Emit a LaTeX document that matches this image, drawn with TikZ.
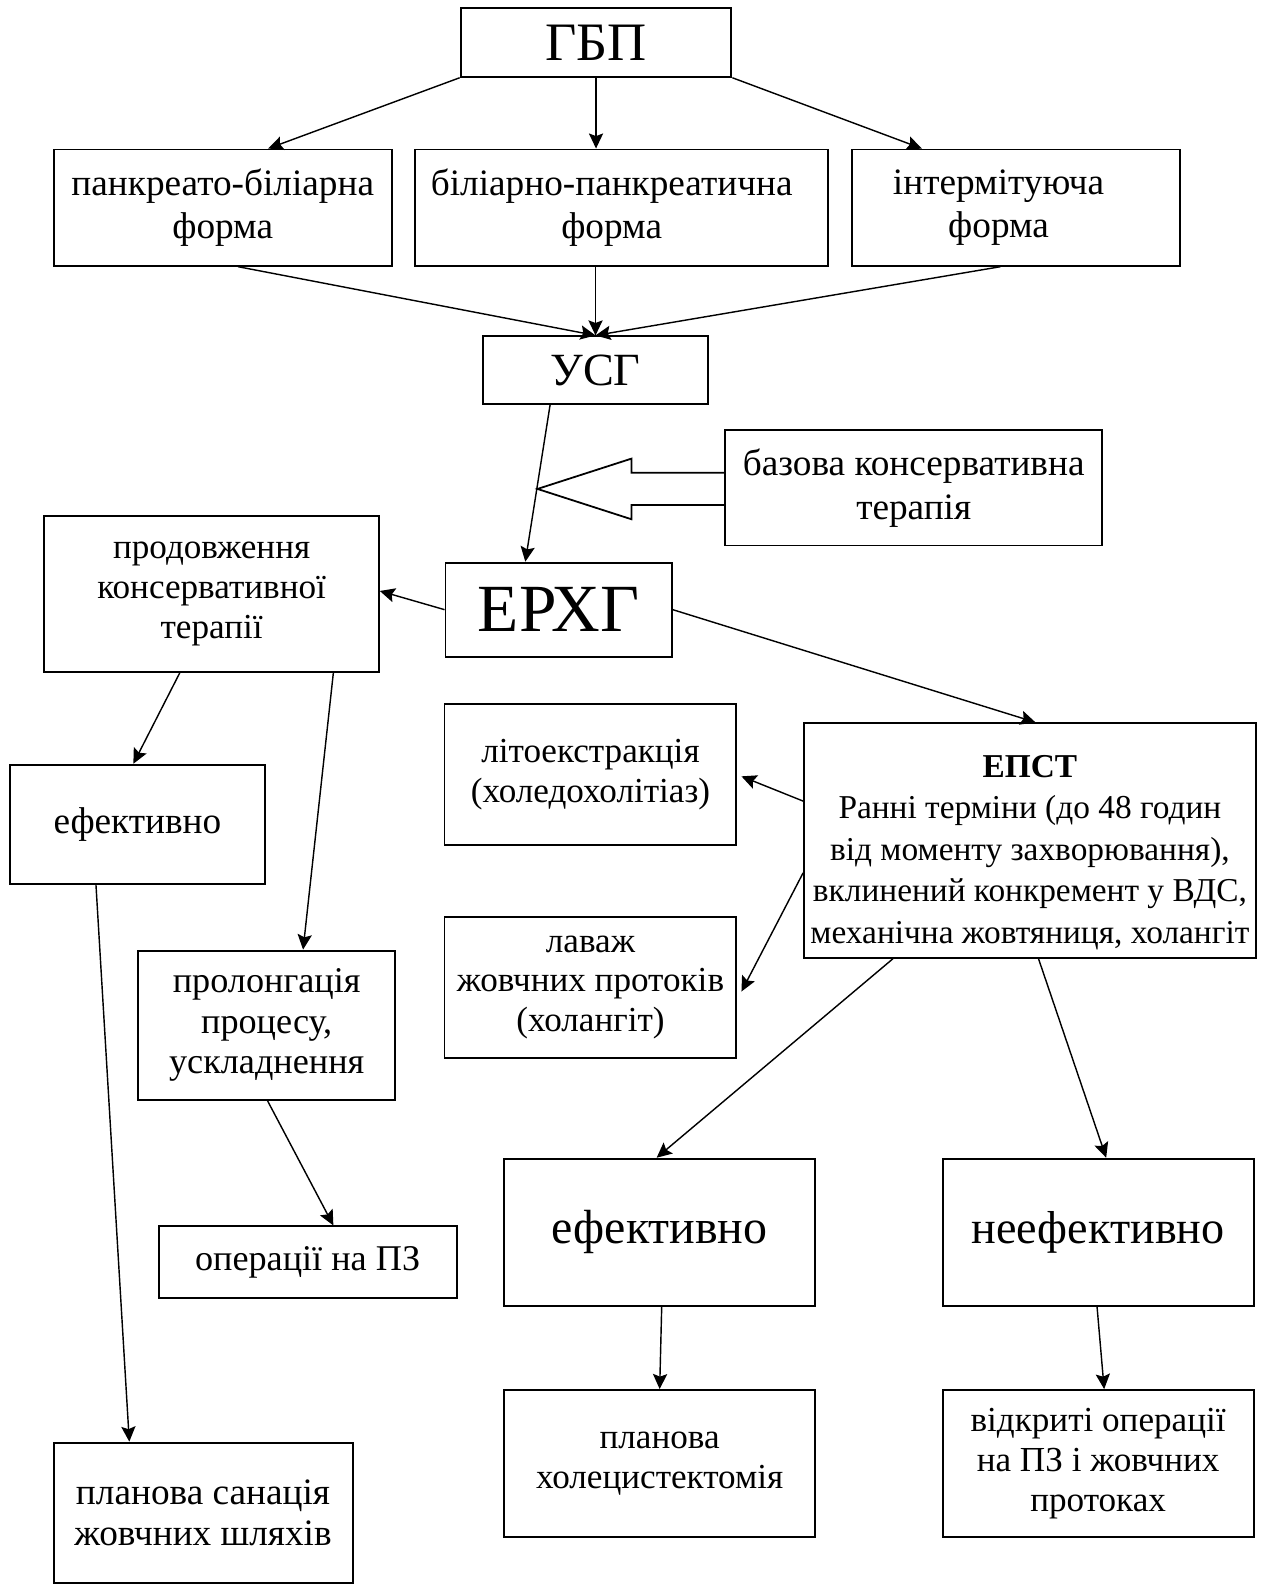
\documentclass[tikz,border=0pt]{standalone}
\usepackage{fontspec}
\setmainfont{Liberation Serif}
\usetikzlibrary{arrows.meta,calc}
\newlength\unitpx
\setlength\unitpx{0.02cm}
\newcommand\bodysize{\fontsize{21}{24.5}\selectfont}
\newcommand\lowsize{\fontsize{19.8}{22.5}\selectfont}
\newcommand\epstsize{\fontsize{18.8}{23.3}\selectfont}

\begin{document}
\begin{tikzpicture}[x=\unitpx, y=\unitpx,
    % --- Styles ---
    flowBox/.style 2 args={
      draw,
      rectangle,
      line width=1.1pt,
      align=center,
      inner sep=0pt,
      minimum width=#1\unitpx,
      minimum height=#2\unitpx,
      font=\bodysize
    },
    flowArrow/.style={
      line width=0.8pt,
      -{Stealth[length=8.5pt,width=8pt,inset=1.5pt]}
    }
]
\useasboundingbox (0,0) rectangle (1252,-1568);

%=====================
% Top: forms of the disease
%=====================
\node[flowBox={268}{68}, font=\fontsize{30.5}{34}\selectfont] (gbp) at (590,-42) {ГБП};
\node[flowBox={335}{115}] (pbf) at (220.5,-205.5) {панкреато-біліарна\\форма};
\node[flowBox={409}{115}] (bpf) at (615.5,-205.5) {біліарно-панкреатична\hspace*{20\unitpx}\\форма\hspace*{20\unitpx}};
\node[flowBox={325}{115}] (intf) at (1005.5,-205.5) {інтермітуюча\hspace*{34\unitpx}\\форма\hspace*{34\unitpx}};
\node[flowBox={223}{67}, font=\fontsize{26}{30}\selectfont] (usg) at (589.5,-366.5) {УСГ};
\node[flowBox={373}{114}] (bazova) at (904.5,-483) {базова консервативна\\терапія};
\node[flowBox={224}{93}, font=\fontsize{38}{42}\selectfont] (erhg) at (553,-603.5) {ЕРХГ};

\draw[flowArrow] (gbp.south west) -- ($(pbf.north)+(45,0)$);
\draw[flowArrow] (gbp.south) -- (gbp.south |- bpf.north);
\draw[flowArrow] (gbp.south east) -- ($(intf.north)+(-93,0)$);
\draw[flowArrow] ($(pbf.south)+(15,0)$) -- (usg.north);
\draw[flowArrow] (usg.north |- bpf.south) -- (usg.north);
\draw[flowArrow] ($(intf.south)+(-15,0)$) -- (usg.north);
\draw[flowArrow] ($(usg.south)+(-45,0)$) -- ($(erhg.north)+(-33,0)$);

% hollow arrow from the base therapy
\draw[line width=1pt] ($(bazova.west)+(0,15)$) -- ++(-92,0) -- ++(0,14)
  -- ($(bazova.west)+(-185,-1)$) -- ($(bazova.west)+(-92,-31)$)
  -- ++(0,14) -- ($(bazova.west)+(0,-17)$);

%=====================
% Left branch: conservative therapy
%=====================
\node[flowBox={331}{154}, font=\lowsize] (prod) at (209.5,-588) {продовження\\консервативної\\терапії};
\node[flowBox={252}{118}] (efl) at (136,-816) {ефективно};
\node[flowBox={254}{148}, font=\fontsize{20.4}{22.8}\selectfont] (prol) at (264,-1015) {пролонгація\\процесу,\\ускладнення};
\node[flowBox={295}{71}, font=\fontsize{20.4}{22.8}\selectfont] (oper) at (304.5,-1249.5) {операції на ПЗ};
\node[flowBox={296}{139}, font=\fontsize{21}{23.5}\selectfont] (plsan) at (201,-1497.5) {планова санація\\жовчних шляхів};

\draw[flowArrow] (erhg.west) -- ($(prod.east)+(0,3)$);
\draw[flowArrow] ($(prod.south)+(-31.5,0)$) -- ($(efl.north)+(-4,0)$);
\draw[flowArrow] ($(prod.south)+(120.5,0)$) -- ($(prol.north)+(36,0)$);
\draw[flowArrow] ($(efl.south)+(-41,0)$) -- ($(plsan.north)+(-73,0)$);
\draw[flowArrow] ($(prol.south)+(1,0)$) -- ($(oper.north)+(25.5,0)$);

%=====================
% Right branch: EPST
%=====================
\node[flowBox={447}{232}, font=\epstsize] (epst) at (1019.5,-832) {\rule{0pt}{26pt}\textbf{ЕПСТ}\\Ранні терміни (до 48 годин\\від моменту захворювання),\\вклинений конкремент у ВДС,\\механічна жовтяниця, холангіт};
\node[flowBox={289}{139}, font=\lowsize] (lito) at (584.5,-766.5) {літоекстракція\\(холедохолітіаз)};
\node[flowBox={289}{139}, font=\lowsize] (lavazh) at (584.5,-977.5) {лаваж\\жовчних протоків\\(холангіт)};
\node[flowBox={308}{146}, font=\fontsize{27}{30}\selectfont] (efb) at (653,-1220) {ефективно};
\node[flowBox={308}{146}, font=\fontsize{26}{30}\selectfont] (neef) at (1087,-1220) {неефективно};
\node[flowBox={308}{145}, font=\lowsize] (plhol) at (653,-1448.5) {планова\\холецистектомія};
\node[flowBox={308}{145}, font=\lowsize] (vidk) at (1087,-1448.5) {відкриті операції\\на ПЗ і жовчних\\протоках};

\draw[flowArrow] (erhg.east) -- ($(epst.north)+(5.5,0)$);
\draw[flowArrow] ($(epst.west)+(0,39)$) -- ($(lito.east)+(4,-2)$);
\draw[flowArrow] ($(epst.west)+(0,-32)$) -- ($(lavazh.east)+(4,-4)$);
\draw[flowArrow] ($(epst.south)+(-135.5,0)$) -- ($(efb.north)+(-3,0)$);
\draw[flowArrow] ($(epst.south)+(8.5,0)$) -- ($(neef.north)+(8,0)$);
\draw[flowArrow] ($(efb.south)+(2,0)$) -- (plhol.north);
\draw[flowArrow] ($(neef.south)+(-1,0)$) -- ($(vidk.north)+(6,0)$);

\end{tikzpicture}
\end{document}
